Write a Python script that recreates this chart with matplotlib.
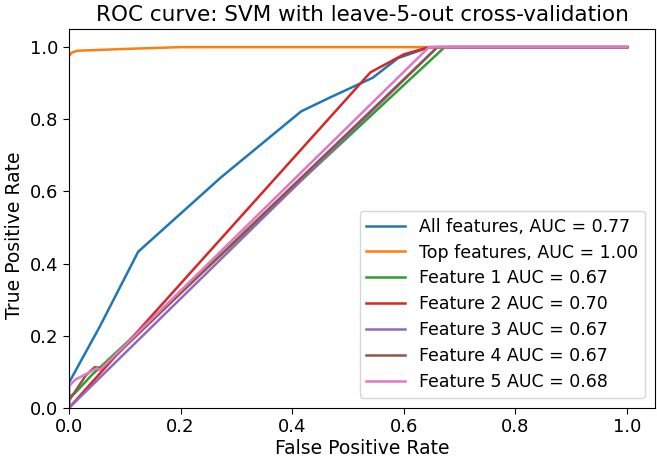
import matplotlib
matplotlib.use("Agg")
import matplotlib.pyplot as plt

all_fpr = [0.0, 0.0, 0.055, 0.124, 0.273, 0.416, 0.467, 0.544, 0.59, 0.646, 1.0]
all_tpr = [0.0, 0.07, 0.225, 0.433, 0.64, 0.822, 0.86, 0.915, 0.97, 1.0, 1.0]

top_fpr = [0.0, 0.005, 0.015, 0.1, 0.2, 0.65, 1.0]
top_tpr = [0.975, 0.985, 0.99, 0.995, 1.0, 1.0, 1.0]

f1_fpr = [0.0, 0.0, 0.01, 0.04, 0.673, 1.0]
f1_tpr = [0.0, 0.03, 0.04, 0.09, 1.0, 1.0]

f2_fpr = [0.0, 0.54, 0.6, 0.645, 1.0]
f2_tpr = [0.0, 0.93, 0.98, 1.0, 1.0]

f3_fpr = [0.0, 0.66, 1.0]
f3_tpr = [0.0, 1.0, 1.0]

f4_fpr = [0.0, 0.0, 0.03, 0.046, 0.06, 0.66, 1.0]
f4_tpr = [0.0, 0.02, 0.09, 0.113, 0.11, 1.0, 1.0]

f5_fpr = [0.0, 0.0, 0.011, 0.038, 0.05, 0.055, 0.645, 1.0]
f5_tpr = [0.0, 0.06, 0.078, 0.1, 0.11, 0.105, 1.0, 1.0]

labels = ["All features, AUC = 0.77", "Top features, AUC = 1.00",
          "Feature 1 AUC = 0.67", "Feature 2 AUC = 0.70",
          "Feature 3 AUC = 0.67", "Feature 4 AUC = 0.67",
          "Feature 5 AUC = 0.68"]

series = [(all_fpr, all_tpr), (top_fpr, top_tpr), (f1_fpr, f1_tpr),
          (f2_fpr, f2_tpr), (f3_fpr, f3_tpr), (f4_fpr, f4_tpr),
          (f5_fpr, f5_tpr)]

fig = plt.figure(figsize=(6.57, 4.62), dpi=100)
ax = fig.add_axes([0.105, 0.117, 0.892, 0.82])
for (x, y), lab in zip(series, labels):
    ax.plot(x, y, lw=1.8, label=lab)
ax.set_xlim(0.0, 1.05)
ax.set_ylim(0.0, 1.05)
ax.set_title("ROC curve: SVM with leave-5-out cross-validation", fontsize=15.5, pad=6)
ax.set_xlabel("False Positive Rate", fontsize=13.5, labelpad=2)
ax.set_ylabel("True Positive Rate", fontsize=13.5)
ax.yaxis.set_label_coords(-0.077, 0.455)
ax.tick_params(labelsize=13, length=4)
ax.legend(loc="lower right", fontsize=12.5, handlelength=2.2,
          borderaxespad=0.6, labelspacing=0.45, handletextpad=0.8)
fig.savefig("out.png", dpi=100)
